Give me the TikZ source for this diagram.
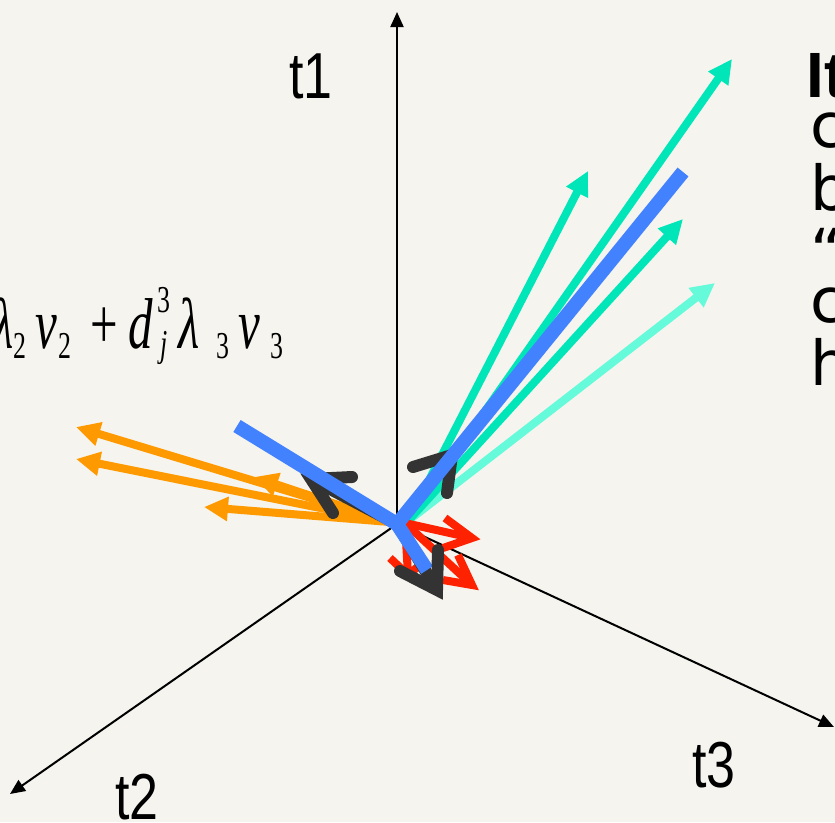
\documentclass[tikz,border=0pt]{standalone}
\usepackage{fontspec}
\setmainfont{Liberation Sans}
\newfontfamily\tnr{Liberation Serif}
\newfontfamily\sidefont{DejaVu Sans}
\usetikzlibrary{arrows.meta}
\definecolor{bg}{RGB}{245,244,238}
\definecolor{grn}{RGB}{0,230,185}
\definecolor{ltl}{RGB}{100,250,218}
\definecolor{blu}{RGB}{66,130,255}
\definecolor{org}{RGB}{255,153,0}
\definecolor{rd}{RGB}{255,34,0}
\definecolor{drk}{RGB}{51,51,51}
\newcommand\fpc[2]{\rlap{\hspace{#1pt}#2}}
\newcommand\sbs[1]{\raisebox{-10pt}{\upshape\fontsize{38}{38}\selectfont #1}}
\newcommand\sps[1]{\raisebox{36pt}{\upshape\fontsize{38}{38}\selectfont #1}}
\newcommand\sbj[1]{\raisebox{-8pt}{\fontsize{38}{38}\selectfont #1}}
\tikzset{
  axis/.style={line width=2pt, -{Triangle[length=15pt,width=13pt]}},
  vecarrow/.style={line width=8pt, -{Triangle[length=24pt,width=23pt]}},
  blueline/.style={blu, line width=14pt},
  redshaft/.style={rd, line width=8pt},
  redhead/.style={rd, line width=8pt, line join=miter, miter limit=10},
  darkshaft/.style={drk, line width=12pt},
  darkhead/.style={drk, line width=12pt, line cap=round, line join=miter, miter limit=10},
  axlabel/.style={inner sep=0pt, font=\fontsize{65}{65}\selectfont},
  sidetext/.style={inner sep=0pt, anchor=base west, font=\sidefont\fontsize{62}{62}\selectfont},
}
\begin{document}
\begin{tikzpicture}[x=1pt,y=-1pt]
\useasboundingbox (0,0) rectangle (835,822);
\fill[bg] (0,0) rectangle (835,822);
\clip (0,0) rectangle (835,822);

% origin and axis ends
\coordinate (O) at (397,524);
\coordinate (T1) at (397,12);
\coordinate (T2) at (10,794);
\coordinate (T3) at (834,727);
\draw[axis] (O) -- (T1);
\draw[axis] (O) -- (T2);
\draw[axis] (O) -- (T3);

% axis labels
\node[axlabel] (lt1) at (311,76) {\scalebox{0.8}[1]{t1}};
\node[axlabel] (lt2) at (137,797) {\scalebox{0.8}[1]{t2}};
\node[axlabel] (lt3) at (714,765) {\scalebox{0.8}[1]{t3}};

% formula (clipped at the left)
\node[anchor=base west, inner sep=0pt] (formula) at (-8,348) {\scalebox{0.68}[1]{\tnr\itshape\fontsize{72}{72}\selectfont
  \fpc{0}{λ}\fpc{30.9}{\sbs{2}}\fpc{63.2}{v}\fpc{97.1}{\sbs{2}}\fpc{144.1}{\upshape +}\fpc{200}{d}\fpc{242.6}{\sps{3}}\fpc{247}{\sbj{j}}\fpc{274}{λ}\fpc{330}{\sbs{3}}\fpc{362}{v}\fpc{410}{\sbs{3}}\hspace{430pt}}};

% right-hand text (clipped)
\node[sidetext, font=\fontsize{64}{64}\selectfont\bfseries] (r1) at (806,97) {It};
\node[sidetext] (r2) at (810,147) {c};
\node[sidetext] (r3) at (810,210) {b};
\node[sidetext] (r4) at (810,273) {“};
\node[sidetext] (r5) at (810,322) {c};
\node[sidetext] (r6) at (810,385) {h};

% orange vectors
\coordinate (Oo) at (390,522);
\coordinate (o1) at (76,427);
\coordinate (o2) at (76,459);
\coordinate (o3) at (204,507);
\coordinate (o4) at (254,477);
\foreach \t in {o1,o2,o3,o4} \draw[vecarrow, org] (Oo) -- (\t);

% green vectors
\coordinate (Og) at (408,521);
\coordinate (g1) at (732,59);
\coordinate (g2) at (588,171);
\coordinate (g3) at (683,219);
\coordinate (g4) at (715,283);
\draw[vecarrow, ltl] (Og) -- (g4);
\foreach \t in {g1,g2,g3} \draw[vecarrow, grn] (Og) -- (\t);

% red vectors
\coordinate (Or) at (405,523);
\coordinate (r1t) at (472,538);
\coordinate (r1a) at (445,518);
\coordinate (r1b) at (443,548);
\coordinate (r2t) at (472,585);
\coordinate (r2a) at (458,555);
\coordinate (r2b) at (443,580);
\coordinate (r3t) at (408,575);
\coordinate (r3a) at (390,558);
\coordinate (r3b) at (426,560);
\draw[redshaft] (Or) -- (r1t);
\draw[redhead] (r1a) -- (r1t) -- (r1b);
\draw[redshaft] (Or) -- (r2t);
\draw[redhead] (r2a) -- (r2t) -- (r2b);
\draw[redshaft] (Or) -- (r3t);
\draw[redhead] (r3a) -- (r3t) -- (r3b);

% dark vectors (heads)
\coordinate (d1v) at (311,479);
\coordinate (d1a) at (352,477);
\coordinate (d1b) at (333,513);
\coordinate (d2v) at (452,455);
\coordinate (d2a) at (413,467);
\coordinate (d2b) at (447,493);
\coordinate (d3v) at (437,590);
\coordinate (d3a) at (400,571);
\coordinate (d3b) at (438,550);
\draw[darkshaft] (O) -- (d1v);
\draw[darkhead] (d1a) -- (d1v) -- (d1b);
\draw[darkshaft] (O) -- (d2v);
\draw[darkhead] (d2a) -- (d2v) -- (d2b);
\draw[darkshaft] (O) -- (d3v);

% blue lines
\coordinate (bA) at (237,426);
\coordinate (bB) at (683,172);
\coordinate (bC) at (427,570);
\draw[blueline] (bA) -- (O);
\draw[blueline] (bB) -- (O);
\draw[blueline] (O) -- (bC);

\draw[darkhead] (d3a) -- (d3v) -- (d3b);
\end{tikzpicture}
\end{document}
